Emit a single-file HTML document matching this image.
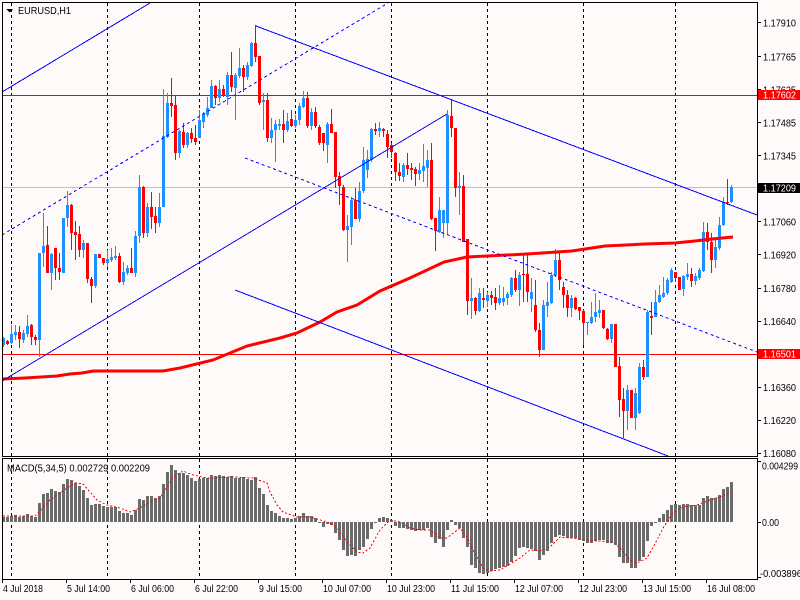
<!DOCTYPE html>
<html><head><meta charset="utf-8"><style>
html,body{margin:0;padding:0;background:#fffafa;}
svg{display:block;}
text{font-family:"Liberation Sans",sans-serif;font-size:10px;fill:#000;}
</style></head><body>
<svg width="800" height="600" viewBox="0 0 800 600" xmlns="http://www.w3.org/2000/svg" shape-rendering="crispEdges">
<rect width="800" height="600" fill="#fffafa"/>
<defs>
<clipPath id="cm"><rect x="2" y="2" width="756" height="455"/></clipPath>
<clipPath id="cd"><rect x="2" y="458" width="756" height="122"/></clipPath>
</defs>

<!-- vertical dashed grid -->
<g stroke="#000" stroke-width="1" stroke-dasharray="3,3">
<path d="M11.5 3V456M107.5 3V456M199.5 3V456M295.5 3V456M391.5 3V456M487.5 3V456M583.5 3V456M675.5 3V456"/>
<path d="M11.5 459V579M107.5 459V579M199.5 459V579M295.5 459V579M391.5 459V579M487.5 459V579M583.5 459V579M675.5 459V579"/>
</g>

<g clip-path="url(#cm)">
<!-- horizontal level lines -->
<rect x="2" y="187" width="756" height="1" fill="#c0c0c0"/>
<rect x="2" y="95" width="756" height="1" fill="#ff0000"/>
<rect x="2" y="354" width="756" height="1" fill="#ff0000"/>

<!-- blue candles -->
<g fill="#1e90ff">
<rect x="2" y="338" width="3" height="7"/><rect x="3" y="337" width="1" height="10"/>
<rect x="10" y="334" width="3" height="9"/><rect x="11" y="325" width="1" height="19"/>
<rect x="14" y="332" width="3" height="3"/><rect x="15" y="325" width="1" height="15"/>
<rect x="22" y="333" width="3" height="7"/><rect x="23" y="330" width="1" height="13"/>
<rect x="26" y="326" width="3" height="8"/><rect x="27" y="315" width="1" height="22"/>
<rect x="38" y="253" width="3" height="87"/><rect x="39" y="253" width="1" height="104"/>
<rect x="42" y="246" width="3" height="7"/><rect x="43" y="213" width="1" height="54"/>
<rect x="50" y="254" width="3" height="19"/><rect x="51" y="253" width="1" height="37"/>
<rect x="62" y="218" width="3" height="55"/><rect x="63" y="218" width="1" height="55"/>
<rect x="66" y="205" width="3" height="13"/><rect x="67" y="191" width="1" height="36"/>
<rect x="82" y="243" width="3" height="7"/><rect x="83" y="240" width="1" height="18"/>
<rect x="94" y="254" width="3" height="32"/><rect x="95" y="254" width="1" height="34"/>
<rect x="106" y="259" width="3" height="4"/><rect x="107" y="250" width="1" height="17"/>
<rect x="110" y="257" width="3" height="3"/><rect x="111" y="248" width="1" height="14"/>
<rect x="114" y="256" width="3" height="2"/><rect x="115" y="246" width="1" height="14"/>
<rect x="122" y="272" width="3" height="10"/><rect x="123" y="262" width="1" height="23"/>
<rect x="126" y="268" width="3" height="5"/><rect x="127" y="265" width="1" height="10"/>
<rect x="134" y="236" width="3" height="37"/><rect x="135" y="231" width="1" height="46"/>
<rect x="138" y="187" width="3" height="49"/><rect x="139" y="175" width="1" height="68"/>
<rect x="146" y="207" width="3" height="26"/><rect x="147" y="203" width="1" height="34"/>
<rect x="158" y="207" width="3" height="16"/><rect x="159" y="193" width="1" height="34"/>
<rect x="162" y="136" width="3" height="71"/><rect x="163" y="89" width="1" height="118"/>
<rect x="166" y="103" width="3" height="34"/><rect x="167" y="93" width="1" height="45"/>
<rect x="178" y="131" width="3" height="22"/><rect x="179" y="130" width="1" height="28"/>
<rect x="186" y="133" width="3" height="12"/><rect x="187" y="132" width="1" height="16"/>
<rect x="198" y="120" width="3" height="18"/><rect x="199" y="110" width="1" height="28"/>
<rect x="202" y="114" width="3" height="8"/><rect x="203" y="112" width="1" height="16"/>
<rect x="206" y="108" width="3" height="7"/><rect x="207" y="97" width="1" height="20"/>
<rect x="210" y="86" width="3" height="22"/><rect x="211" y="80" width="1" height="28"/>
<rect x="218" y="89" width="3" height="9"/><rect x="219" y="80" width="1" height="22"/>
<rect x="226" y="75" width="3" height="22"/><rect x="227" y="72" width="1" height="33"/>
<rect x="234" y="75" width="3" height="13"/><rect x="235" y="73" width="1" height="47"/>
<rect x="238" y="68" width="3" height="8"/><rect x="239" y="48" width="1" height="30"/>
<rect x="246" y="65" width="3" height="12"/><rect x="247" y="62" width="1" height="18"/>
<rect x="250" y="43" width="3" height="23"/><rect x="251" y="42" width="1" height="25"/>
<rect x="262" y="100" width="3" height="2"/><rect x="263" y="93" width="1" height="37"/>
<rect x="270" y="130" width="3" height="8"/><rect x="271" y="118" width="1" height="25"/>
<rect x="274" y="124" width="3" height="6"/><rect x="275" y="120" width="1" height="42"/>
<rect x="278" y="124" width="3" height="2"/><rect x="279" y="119" width="1" height="11"/>
<rect x="286" y="121" width="3" height="9"/><rect x="287" y="113" width="1" height="19"/>
<rect x="294" y="120" width="3" height="6"/><rect x="295" y="115" width="1" height="13"/>
<rect x="298" y="106" width="3" height="14"/><rect x="299" y="103" width="1" height="22"/>
<rect x="302" y="98" width="3" height="9"/><rect x="303" y="91" width="1" height="17"/>
<rect x="310" y="112" width="3" height="14"/><rect x="311" y="108" width="1" height="22"/>
<rect x="326" y="124" width="3" height="21"/><rect x="327" y="122" width="1" height="41"/>
<rect x="346" y="226" width="3" height="4"/><rect x="347" y="215" width="1" height="47"/>
<rect x="350" y="200" width="3" height="27"/><rect x="351" y="197" width="1" height="48"/>
<rect x="358" y="191" width="3" height="28"/><rect x="359" y="182" width="1" height="40"/>
<rect x="362" y="160" width="3" height="31"/><rect x="363" y="147" width="1" height="46"/>
<rect x="366" y="159" width="3" height="11"/><rect x="367" y="150" width="1" height="28"/>
<rect x="370" y="129" width="3" height="31"/><rect x="371" y="128" width="1" height="34"/>
<rect x="378" y="128" width="3" height="3"/><rect x="379" y="122" width="1" height="15"/>
<rect x="402" y="165" width="3" height="12"/><rect x="403" y="163" width="1" height="19"/>
<rect x="418" y="170" width="3" height="4"/><rect x="419" y="163" width="1" height="17"/>
<rect x="422" y="166" width="3" height="5"/><rect x="423" y="144" width="1" height="38"/>
<rect x="426" y="160" width="3" height="8"/><rect x="427" y="150" width="1" height="37"/>
<rect x="438" y="210" width="3" height="22"/><rect x="439" y="197" width="1" height="36"/>
<rect x="442" y="210" width="3" height="13"/><rect x="443" y="210" width="1" height="28"/>
<rect x="446" y="115" width="3" height="108"/><rect x="447" y="110" width="1" height="125"/>
<rect x="458" y="186" width="3" height="2"/><rect x="459" y="172" width="1" height="43"/>
<rect x="470" y="298" width="3" height="3"/><rect x="471" y="278" width="1" height="41"/>
<rect x="478" y="293" width="3" height="18"/><rect x="479" y="288" width="1" height="24"/>
<rect x="486" y="295" width="3" height="6"/><rect x="487" y="292" width="1" height="15"/>
<rect x="498" y="298" width="3" height="5"/><rect x="499" y="285" width="1" height="20"/>
<rect x="502" y="298" width="3" height="4"/><rect x="503" y="287" width="1" height="19"/>
<rect x="506" y="294" width="3" height="4"/><rect x="507" y="292" width="1" height="13"/>
<rect x="510" y="278" width="3" height="17"/><rect x="511" y="277" width="1" height="20"/>
<rect x="518" y="275" width="3" height="15"/><rect x="519" y="272" width="1" height="34"/>
<rect x="530" y="292" width="3" height="7"/><rect x="531" y="278" width="1" height="34"/>
<rect x="542" y="305" width="3" height="45"/><rect x="543" y="300" width="1" height="50"/>
<rect x="546" y="302" width="3" height="4"/><rect x="547" y="282" width="1" height="35"/>
<rect x="550" y="275" width="3" height="28"/><rect x="551" y="272" width="1" height="32"/>
<rect x="554" y="260" width="3" height="15"/><rect x="555" y="249" width="1" height="28"/>
<rect x="570" y="298" width="3" height="10"/><rect x="571" y="295" width="1" height="22"/>
<rect x="586" y="322" width="3" height="1"/><rect x="587" y="322" width="1" height="13"/>
<rect x="590" y="317" width="3" height="6"/><rect x="591" y="302" width="1" height="22"/>
<rect x="594" y="312" width="3" height="5"/><rect x="595" y="293" width="1" height="29"/>
<rect x="598" y="310" width="3" height="3"/><rect x="599" y="300" width="1" height="18"/>
<rect x="610" y="324" width="3" height="15"/><rect x="611" y="324" width="1" height="19"/>
<rect x="626" y="390" width="3" height="21"/><rect x="627" y="385" width="1" height="45"/>
<rect x="634" y="393" width="3" height="25"/><rect x="635" y="388" width="1" height="42"/>
<rect x="638" y="367" width="3" height="46"/><rect x="639" y="363" width="1" height="51"/>
<rect x="646" y="312" width="3" height="65"/><rect x="647" y="310" width="1" height="67"/>
<rect x="654" y="302" width="3" height="15"/><rect x="655" y="290" width="1" height="27"/>
<rect x="658" y="295" width="3" height="7"/><rect x="659" y="285" width="1" height="18"/>
<rect x="662" y="293" width="3" height="4"/><rect x="663" y="277" width="1" height="21"/>
<rect x="666" y="280" width="3" height="13"/><rect x="667" y="278" width="1" height="17"/>
<rect x="670" y="270" width="3" height="12"/><rect x="671" y="268" width="1" height="15"/>
<rect x="682" y="276" width="3" height="13"/><rect x="683" y="275" width="1" height="21"/>
<rect x="686" y="274" width="3" height="3"/><rect x="687" y="263" width="1" height="17"/>
<rect x="694" y="276" width="3" height="5"/><rect x="695" y="273" width="1" height="12"/>
<rect x="698" y="270" width="3" height="8"/><rect x="699" y="268" width="1" height="12"/>
<rect x="702" y="232" width="3" height="39"/><rect x="703" y="222" width="1" height="50"/>
<rect x="714" y="247" width="3" height="13"/><rect x="715" y="237" width="1" height="31"/>
<rect x="718" y="225" width="3" height="23"/><rect x="719" y="217" width="1" height="33"/>
<rect x="722" y="202" width="3" height="23"/><rect x="723" y="197" width="1" height="29"/>
<rect x="730" y="187" width="3" height="15"/><rect x="731" y="185" width="1" height="18"/>
</g>

<!-- red candles -->
<g fill="#ff0000">
<rect x="6" y="341" width="3" height="3"/><rect x="7" y="340" width="1" height="5"/>
<rect x="18" y="332" width="3" height="7"/><rect x="19" y="326" width="1" height="22"/>
<rect x="30" y="325" width="3" height="12"/><rect x="31" y="324" width="1" height="21"/>
<rect x="34" y="337" width="3" height="3"/><rect x="35" y="335" width="1" height="10"/>
<rect x="46" y="245" width="3" height="28"/><rect x="47" y="226" width="1" height="47"/>
<rect x="54" y="248" width="3" height="20"/><rect x="55" y="248" width="1" height="32"/>
<rect x="58" y="268" width="3" height="4"/><rect x="59" y="253" width="1" height="27"/>
<rect x="70" y="205" width="3" height="28"/><rect x="71" y="204" width="1" height="46"/>
<rect x="74" y="232" width="3" height="3"/><rect x="75" y="221" width="1" height="39"/>
<rect x="78" y="234" width="3" height="16"/><rect x="79" y="226" width="1" height="31"/>
<rect x="86" y="243" width="3" height="36"/><rect x="87" y="243" width="1" height="40"/>
<rect x="90" y="279" width="3" height="7"/><rect x="91" y="277" width="1" height="26"/>
<rect x="98" y="254" width="3" height="4"/><rect x="99" y="254" width="1" height="4"/>
<rect x="102" y="258" width="3" height="5"/><rect x="103" y="258" width="1" height="7"/>
<rect x="118" y="256" width="3" height="26"/><rect x="119" y="253" width="1" height="30"/>
<rect x="130" y="268" width="3" height="5"/><rect x="131" y="248" width="1" height="25"/>
<rect x="142" y="187" width="3" height="46"/><rect x="143" y="186" width="1" height="52"/>
<rect x="150" y="207" width="3" height="10"/><rect x="151" y="192" width="1" height="37"/>
<rect x="154" y="216" width="3" height="7"/><rect x="155" y="207" width="1" height="26"/>
<rect x="170" y="103" width="3" height="3"/><rect x="171" y="78" width="1" height="39"/>
<rect x="174" y="105" width="3" height="48"/><rect x="175" y="95" width="1" height="65"/>
<rect x="182" y="132" width="3" height="13"/><rect x="183" y="123" width="1" height="25"/>
<rect x="190" y="133" width="3" height="6"/><rect x="191" y="128" width="1" height="15"/>
<rect x="194" y="138" width="3" height="4"/><rect x="195" y="125" width="1" height="20"/>
<rect x="214" y="86" width="3" height="12"/><rect x="215" y="85" width="1" height="20"/>
<rect x="222" y="89" width="3" height="6"/><rect x="223" y="85" width="1" height="12"/>
<rect x="230" y="75" width="3" height="12"/><rect x="231" y="52" width="1" height="40"/>
<rect x="242" y="68" width="3" height="9"/><rect x="243" y="65" width="1" height="27"/>
<rect x="254" y="43" width="3" height="14"/><rect x="255" y="25" width="1" height="37"/>
<rect x="258" y="56" width="3" height="47"/><rect x="259" y="56" width="1" height="49"/>
<rect x="266" y="100" width="3" height="38"/><rect x="267" y="93" width="1" height="49"/>
<rect x="282" y="124" width="3" height="6"/><rect x="283" y="110" width="1" height="33"/>
<rect x="290" y="119" width="3" height="7"/><rect x="291" y="110" width="1" height="17"/>
<rect x="306" y="98" width="3" height="28"/><rect x="307" y="92" width="1" height="36"/>
<rect x="314" y="112" width="3" height="14"/><rect x="315" y="107" width="1" height="21"/>
<rect x="318" y="127" width="3" height="16"/><rect x="319" y="125" width="1" height="20"/>
<rect x="322" y="133" width="3" height="10"/><rect x="323" y="133" width="1" height="18"/>
<rect x="330" y="124" width="3" height="9"/><rect x="331" y="109" width="1" height="24"/>
<rect x="334" y="132" width="3" height="45"/><rect x="335" y="132" width="1" height="56"/>
<rect x="338" y="176" width="3" height="10"/><rect x="339" y="172" width="1" height="33"/>
<rect x="342" y="187" width="3" height="43"/><rect x="343" y="185" width="1" height="46"/>
<rect x="354" y="200" width="3" height="19"/><rect x="355" y="188" width="1" height="31"/>
<rect x="374" y="129" width="3" height="2"/><rect x="375" y="123" width="1" height="12"/>
<rect x="382" y="129" width="3" height="2"/><rect x="383" y="128" width="1" height="9"/>
<rect x="386" y="134" width="3" height="13"/><rect x="387" y="130" width="1" height="28"/>
<rect x="390" y="145" width="3" height="7"/><rect x="391" y="143" width="1" height="15"/>
<rect x="394" y="153" width="3" height="19"/><rect x="395" y="152" width="1" height="29"/>
<rect x="398" y="172" width="3" height="4"/><rect x="399" y="163" width="1" height="18"/>
<rect x="406" y="165" width="3" height="4"/><rect x="407" y="153" width="1" height="22"/>
<rect x="410" y="168" width="3" height="2"/><rect x="411" y="163" width="1" height="17"/>
<rect x="414" y="169" width="3" height="5"/><rect x="415" y="167" width="1" height="19"/>
<rect x="430" y="160" width="3" height="59"/><rect x="431" y="143" width="1" height="77"/>
<rect x="434" y="218" width="3" height="13"/><rect x="435" y="218" width="1" height="33"/>
<rect x="450" y="116" width="3" height="12"/><rect x="451" y="100" width="1" height="37"/>
<rect x="454" y="128" width="3" height="60"/><rect x="455" y="128" width="1" height="69"/>
<rect x="462" y="186" width="3" height="56"/><rect x="463" y="175" width="1" height="67"/>
<rect x="466" y="239" width="3" height="62"/><rect x="467" y="239" width="1" height="76"/>
<rect x="474" y="298" width="3" height="13"/><rect x="475" y="297" width="1" height="18"/>
<rect x="482" y="298" width="3" height="2"/><rect x="483" y="288" width="1" height="20"/>
<rect x="490" y="295" width="3" height="3"/><rect x="491" y="291" width="1" height="14"/>
<rect x="494" y="297" width="3" height="6"/><rect x="495" y="288" width="1" height="22"/>
<rect x="514" y="278" width="3" height="12"/><rect x="515" y="270" width="1" height="22"/>
<rect x="522" y="274" width="3" height="1"/><rect x="523" y="255" width="1" height="47"/>
<rect x="526" y="274" width="3" height="18"/><rect x="527" y="255" width="1" height="47"/>
<rect x="534" y="305" width="3" height="25"/><rect x="535" y="280" width="1" height="52"/>
<rect x="538" y="330" width="3" height="20"/><rect x="539" y="323" width="1" height="34"/>
<rect x="558" y="260" width="3" height="20"/><rect x="559" y="252" width="1" height="38"/>
<rect x="562" y="287" width="3" height="8"/><rect x="563" y="282" width="1" height="26"/>
<rect x="566" y="295" width="3" height="13"/><rect x="567" y="290" width="1" height="27"/>
<rect x="574" y="298" width="3" height="11"/><rect x="575" y="297" width="1" height="13"/>
<rect x="578" y="307" width="3" height="4"/><rect x="579" y="307" width="1" height="13"/>
<rect x="582" y="311" width="3" height="12"/><rect x="583" y="310" width="1" height="35"/>
<rect x="602" y="310" width="3" height="18"/><rect x="603" y="310" width="1" height="19"/>
<rect x="606" y="329" width="3" height="10"/><rect x="607" y="328" width="1" height="12"/>
<rect x="614" y="324" width="3" height="43"/><rect x="615" y="324" width="1" height="43"/>
<rect x="618" y="366" width="3" height="34"/><rect x="619" y="357" width="1" height="60"/>
<rect x="622" y="399" width="3" height="12"/><rect x="623" y="388" width="1" height="50"/>
<rect x="630" y="390" width="3" height="28"/><rect x="631" y="390" width="1" height="28"/>
<rect x="642" y="367" width="3" height="10"/><rect x="643" y="360" width="1" height="20"/>
<rect x="650" y="316" width="3" height="2"/><rect x="651" y="302" width="1" height="33"/>
<rect x="674" y="272" width="3" height="6"/><rect x="675" y="272" width="1" height="10"/>
<rect x="678" y="277" width="3" height="13"/><rect x="679" y="277" width="1" height="13"/>
<rect x="690" y="274" width="3" height="7"/><rect x="691" y="268" width="1" height="19"/>
<rect x="706" y="232" width="3" height="10"/><rect x="707" y="223" width="1" height="27"/>
<rect x="710" y="242" width="3" height="18"/><rect x="711" y="233" width="1" height="40"/>
<rect x="726" y="202" width="3" height="1"/><rect x="727" y="179" width="1" height="26"/>
</g>

<!-- moving average -->
<polyline fill="none" stroke="#ff0000" stroke-width="3" shape-rendering="auto" points="2,379 25,378 57,376 70,374 82,373 93,371 163,371 180,368 213,360 247,346 280,338 297,333 320,322 337,312 357,305 380,291 410,278 444,262 467,257 487,256 527,254 572,251 585,249 605,246 645,244 675,243 695,241 712,239 733,237"/>

<!-- trendlines -->
<g stroke="#0000ff" stroke-width="1" fill="none">
<line x1="2" y1="92" x2="150" y2="3"/>
<line x1="2" y1="381" x2="447" y2="114"/>
<line x1="256" y1="26" x2="757" y2="215"/>
<line x1="235" y1="290" x2="668" y2="456"/>
<line x1="2" y1="235" x2="388" y2="3" stroke-dasharray="3,3"/>
<line x1="245" y1="158" x2="757" y2="352" stroke-dasharray="3,3"/>
</g>
</g>

<!-- MACD histogram -->
<g clip-path="url(#cd)" fill="#6b6b6b">
<rect x="2" y="517" width="3" height="5"/><rect x="6" y="517" width="3" height="5"/><rect x="10" y="516" width="3" height="6"/><rect x="14" y="515" width="3" height="7"/><rect x="18" y="517" width="3" height="5"/><rect x="22" y="516" width="3" height="6"/><rect x="26" y="514" width="3" height="8"/><rect x="30" y="516" width="3" height="6"/><rect x="34" y="517" width="3" height="5"/><rect x="38" y="503" width="3" height="19"/>
<rect x="42" y="494" width="3" height="28"/><rect x="46" y="493" width="3" height="29"/><rect x="50" y="489" width="3" height="33"/><rect x="54" y="491" width="3" height="31"/><rect x="58" y="492" width="3" height="30"/><rect x="62" y="484" width="3" height="38"/><rect x="66" y="479" width="3" height="43"/><rect x="70" y="480" width="3" height="42"/><rect x="74" y="483" width="3" height="39"/><rect x="78" y="486" width="3" height="36"/>
<rect x="82" y="490" width="3" height="32"/><rect x="86" y="498" width="3" height="24"/><rect x="90" y="505" width="3" height="17"/><rect x="94" y="504" width="3" height="18"/><rect x="98" y="504" width="3" height="18"/><rect x="102" y="506" width="3" height="16"/><rect x="106" y="507" width="3" height="15"/><rect x="110" y="507" width="3" height="15"/><rect x="114" y="507" width="3" height="15"/><rect x="118" y="511" width="3" height="11"/>
<rect x="122" y="513" width="3" height="9"/><rect x="126" y="513" width="3" height="9"/><rect x="130" y="515" width="3" height="7"/><rect x="134" y="510" width="3" height="12"/><rect x="138" y="499" width="3" height="23"/><rect x="142" y="500" width="3" height="22"/><rect x="146" y="496" width="3" height="26"/><rect x="150" y="496" width="3" height="26"/><rect x="154" y="498" width="3" height="24"/><rect x="158" y="496" width="3" height="26"/>
<rect x="162" y="484" width="3" height="38"/><rect x="166" y="472" width="3" height="50"/><rect x="170" y="465" width="3" height="57"/><rect x="174" y="470" width="3" height="52"/><rect x="178" y="473" width="3" height="49"/><rect x="182" y="473" width="3" height="49"/><rect x="186" y="475" width="3" height="47"/><rect x="190" y="478" width="3" height="44"/><rect x="194" y="481" width="3" height="41"/><rect x="198" y="479" width="3" height="43"/>
<rect x="202" y="478" width="3" height="44"/><rect x="206" y="478" width="3" height="44"/><rect x="210" y="475" width="3" height="47"/><rect x="214" y="476" width="3" height="46"/><rect x="218" y="475" width="3" height="47"/><rect x="222" y="476" width="3" height="46"/><rect x="226" y="477" width="3" height="45"/><rect x="230" y="476" width="3" height="46"/><rect x="234" y="478" width="3" height="44"/><rect x="238" y="478" width="3" height="44"/>
<rect x="242" y="477" width="3" height="45"/><rect x="246" y="479" width="3" height="43"/><rect x="250" y="480" width="3" height="42"/><rect x="254" y="477" width="3" height="45"/><rect x="258" y="488" width="3" height="34"/><rect x="262" y="494" width="3" height="28"/><rect x="266" y="505" width="3" height="17"/><rect x="270" y="511" width="3" height="11"/><rect x="274" y="513" width="3" height="9"/><rect x="278" y="516" width="3" height="6"/>
<rect x="282" y="518" width="3" height="4"/><rect x="286" y="518" width="3" height="4"/><rect x="290" y="519" width="3" height="3"/><rect x="294" y="518" width="3" height="4"/><rect x="298" y="516" width="3" height="6"/><rect x="302" y="513" width="3" height="9"/><rect x="306" y="516" width="3" height="6"/><rect x="310" y="516" width="3" height="6"/><rect x="314" y="518" width="3" height="4"/><rect x="318" y="522" width="3" height="1"/>
<rect x="322" y="522" width="3" height="5"/><rect x="326" y="522" width="3" height="2"/><rect x="330" y="522" width="3" height="3"/><rect x="334" y="522" width="3" height="11"/><rect x="338" y="522" width="3" height="18"/><rect x="342" y="522" width="3" height="28"/><rect x="346" y="522" width="3" height="34"/><rect x="350" y="522" width="3" height="33"/><rect x="354" y="522" width="3" height="34"/><rect x="358" y="522" width="3" height="28"/>
<rect x="362" y="522" width="3" height="25"/><rect x="366" y="522" width="3" height="17"/><rect x="370" y="522" width="3" height="7"/><rect x="374" y="522" width="3" height="1"/><rect x="378" y="518" width="3" height="4"/><rect x="382" y="517" width="3" height="5"/><rect x="386" y="518" width="3" height="4"/><rect x="390" y="520" width="3" height="2"/><rect x="394" y="522" width="3" height="4"/><rect x="398" y="522" width="3" height="6"/>
<rect x="402" y="522" width="3" height="6"/><rect x="406" y="522" width="3" height="7"/><rect x="410" y="522" width="3" height="8"/><rect x="414" y="522" width="3" height="9"/><rect x="418" y="522" width="3" height="8"/><rect x="422" y="522" width="3" height="8"/><rect x="426" y="522" width="3" height="6"/><rect x="430" y="522" width="3" height="15"/><rect x="434" y="522" width="3" height="21"/><rect x="438" y="522" width="3" height="17"/>
<rect x="442" y="522" width="3" height="25"/><rect x="446" y="522" width="3" height="8"/><rect x="450" y="520" width="3" height="2"/><rect x="454" y="522" width="3" height="3"/><rect x="458" y="522" width="3" height="6"/><rect x="462" y="522" width="3" height="16"/><rect x="466" y="522" width="3" height="25"/><rect x="470" y="522" width="3" height="43"/><rect x="474" y="522" width="3" height="46"/><rect x="478" y="522" width="3" height="51"/>
<rect x="482" y="522" width="3" height="52"/><rect x="486" y="522" width="3" height="51"/><rect x="490" y="522" width="3" height="49"/><rect x="494" y="522" width="3" height="47"/><rect x="498" y="522" width="3" height="46"/><rect x="502" y="522" width="3" height="45"/><rect x="506" y="522" width="3" height="44"/><rect x="510" y="522" width="3" height="40"/><rect x="514" y="522" width="3" height="34"/><rect x="518" y="522" width="3" height="26"/>
<rect x="522" y="522" width="3" height="25"/><rect x="526" y="522" width="3" height="26"/><rect x="530" y="522" width="3" height="27"/><rect x="534" y="522" width="3" height="29"/><rect x="538" y="522" width="3" height="38"/><rect x="542" y="522" width="3" height="33"/><rect x="546" y="522" width="3" height="29"/><rect x="550" y="522" width="3" height="21"/><rect x="554" y="522" width="3" height="15"/><rect x="558" y="522" width="3" height="13"/>
<rect x="562" y="522" width="3" height="14"/><rect x="566" y="522" width="3" height="16"/><rect x="570" y="522" width="3" height="16"/><rect x="574" y="522" width="3" height="16"/><rect x="578" y="522" width="3" height="18"/><rect x="582" y="522" width="3" height="19"/><rect x="586" y="522" width="3" height="21"/><rect x="590" y="522" width="3" height="21"/><rect x="594" y="522" width="3" height="19"/><rect x="598" y="522" width="3" height="18"/>
<rect x="602" y="522" width="3" height="18"/><rect x="606" y="522" width="3" height="21"/><rect x="610" y="522" width="3" height="21"/><rect x="614" y="522" width="3" height="23"/><rect x="618" y="522" width="3" height="35"/><rect x="622" y="522" width="3" height="41"/><rect x="626" y="522" width="3" height="41"/><rect x="630" y="522" width="3" height="46"/><rect x="634" y="522" width="3" height="46"/><rect x="638" y="522" width="3" height="39"/>
<rect x="642" y="522" width="3" height="35"/><rect x="646" y="522" width="3" height="19"/><rect x="650" y="522" width="3" height="4"/><rect x="654" y="522" width="3" height="1"/><rect x="658" y="518" width="3" height="4"/><rect x="662" y="514" width="3" height="8"/><rect x="666" y="510" width="3" height="12"/><rect x="670" y="505" width="3" height="17"/><rect x="674" y="504" width="3" height="18"/><rect x="678" y="505" width="3" height="17"/>
<rect x="682" y="504" width="3" height="18"/><rect x="686" y="504" width="3" height="18"/><rect x="690" y="505" width="3" height="17"/><rect x="694" y="505" width="3" height="17"/><rect x="698" y="505" width="3" height="17"/><rect x="702" y="498" width="3" height="24"/><rect x="706" y="496" width="3" height="26"/><rect x="710" y="498" width="3" height="24"/><rect x="714" y="498" width="3" height="24"/><rect x="718" y="495" width="3" height="27"/>
<rect x="722" y="489" width="3" height="33"/><rect x="726" y="487" width="3" height="35"/><rect x="730" y="482" width="3" height="40"/>
<!-- signal -->
<polyline fill="none" stroke="#ff0000" stroke-width="1" stroke-dasharray="2,2" points="3,516 35,516 39,512 50,500 67,488 75,483 83,484 90,492 97,500 107,505 120,508 130,512 140,508 150,502 160,498 167,487 173,477 183,471 193,475 207,478 233,477 253,478 267,483 270,492 277,505 283,512 297,517 310,517 320,520 330,523 337,528 347,542 357,552 363,553 370,548 380,530 387,523 390,520 400,522 410,528 420,530 430,530 440,538 447,538 460,528 467,537 473,550 483,568 490,571 500,570 510,564 520,558 530,550 540,551 550,547 560,537 570,538 580,539 597,541 613,542 620,548 630,560 637,563 647,558 657,540 663,528 673,513 683,507 697,505 710,500 720,497 731,492"/>
</g>

<!-- frames -->
<g fill="none" stroke="#000" stroke-width="1">
<rect x="2.5" y="2.5" width="755" height="454"/>
<rect x="2.5" y="458.5" width="755" height="121"/>
</g>

<!-- title -->
<polygon points="6,9 13,9 9.5,12.5" fill="#000"/>
<text x="18" y="14" textLength="53" lengthAdjust="spacingAndGlyphs">EURUSD,H1</text>
<text x="7" y="471.5" textLength="143" lengthAdjust="spacingAndGlyphs">MACD(5,34,5) 0.002729 0.002209</text>

<!-- price axis ticks -->
<g fill="#000">
<rect x="758" y="22" width="3" height="1"/><rect x="758" y="56" width="3" height="1"/><rect x="758" y="89" width="3" height="1"/><rect x="758" y="122" width="3" height="1"/><rect x="758" y="155" width="3" height="1"/><rect x="758" y="221" width="3" height="1"/><rect x="758" y="254" width="3" height="1"/><rect x="758" y="288" width="3" height="1"/><rect x="758" y="321" width="3" height="1"/><rect x="758" y="387" width="3" height="1"/><rect x="758" y="420" width="3" height="1"/><rect x="758" y="453" width="3" height="1"/>
<rect x="758" y="461" width="3" height="1"/><rect x="758" y="522" width="3" height="1"/><rect x="758" y="577" width="3" height="1"/>
<rect x="2" y="580" width="1" height="3"/><rect x="66" y="580" width="1" height="3"/><rect x="130" y="580" width="1" height="3"/><rect x="194" y="580" width="1" height="3"/><rect x="258" y="580" width="1" height="3"/><rect x="322" y="580" width="1" height="3"/><rect x="386" y="580" width="1" height="3"/><rect x="450" y="580" width="1" height="3"/><rect x="514" y="580" width="1" height="3"/><rect x="578" y="580" width="1" height="3"/><rect x="642" y="580" width="1" height="3"/><rect x="706" y="580" width="1" height="3"/>
</g>

<!-- price labels -->
<g>
<text x="763" y="26.5" textLength="33" lengthAdjust="spacingAndGlyphs">1.17910</text>
<text x="763" y="60.5" textLength="33" lengthAdjust="spacingAndGlyphs">1.17765</text>
<text x="763" y="93.5" textLength="33" lengthAdjust="spacingAndGlyphs">1.17625</text>
<text x="763" y="126.5" textLength="33" lengthAdjust="spacingAndGlyphs">1.17485</text>
<text x="763" y="159.5" textLength="33" lengthAdjust="spacingAndGlyphs">1.17345</text>
<text x="763" y="225.5" textLength="33" lengthAdjust="spacingAndGlyphs">1.17060</text>
<text x="763" y="258.5" textLength="33" lengthAdjust="spacingAndGlyphs">1.16920</text>
<text x="763" y="292" textLength="33" lengthAdjust="spacingAndGlyphs">1.16780</text>
<text x="763" y="325" textLength="33" lengthAdjust="spacingAndGlyphs">1.16640</text>
<text x="763" y="391" textLength="33" lengthAdjust="spacingAndGlyphs">1.16360</text>
<text x="763" y="424" textLength="33" lengthAdjust="spacingAndGlyphs">1.16220</text>
<text x="763" y="457" textLength="33" lengthAdjust="spacingAndGlyphs">1.16080</text>
</g>
<rect x="758" y="90" width="42" height="10" fill="#ff0000"/>
<text x="763" y="98.5" textLength="33" lengthAdjust="spacingAndGlyphs" style="fill:#fff">1.17602</text>
<rect x="758" y="183" width="42" height="10" fill="#000"/>
<text x="763" y="191.5" textLength="33" lengthAdjust="spacingAndGlyphs" style="fill:#fff">1.17209</text>
<rect x="758" y="349" width="42" height="10" fill="#ff0000"/>
<text x="763" y="357.5" textLength="33" lengthAdjust="spacingAndGlyphs" style="fill:#fff">1.16501</text>

<!-- MACD axis labels -->
<text x="762" y="469.5" textLength="36" lengthAdjust="spacingAndGlyphs">0.004299</text>
<text x="762" y="526" textLength="17" lengthAdjust="spacingAndGlyphs">0.00</text>
<text x="760" y="577" textLength="42" lengthAdjust="spacingAndGlyphs">-0.003896</text>

<!-- time labels -->
<g>
<text x="3" y="592" textLength="40" lengthAdjust="spacingAndGlyphs">4 Jul 2018</text>
<text x="67" y="592" textLength="43" lengthAdjust="spacingAndGlyphs">5 Jul 14:00</text>
<text x="131" y="592" textLength="43" lengthAdjust="spacingAndGlyphs">6 Jul 06:00</text>
<text x="195" y="592" textLength="43" lengthAdjust="spacingAndGlyphs">6 Jul 22:00</text>
<text x="259" y="592" textLength="43" lengthAdjust="spacingAndGlyphs">9 Jul 15:00</text>
<text x="323" y="592" textLength="48" lengthAdjust="spacingAndGlyphs">10 Jul 07:00</text>
<text x="387" y="592" textLength="48" lengthAdjust="spacingAndGlyphs">10 Jul 23:00</text>
<text x="451" y="592" textLength="48" lengthAdjust="spacingAndGlyphs">11 Jul 15:00</text>
<text x="515" y="592" textLength="48" lengthAdjust="spacingAndGlyphs">12 Jul 07:00</text>
<text x="579" y="592" textLength="48" lengthAdjust="spacingAndGlyphs">12 Jul 23:00</text>
<text x="643" y="592" textLength="48" lengthAdjust="spacingAndGlyphs">13 Jul 15:00</text>
<text x="707" y="592" textLength="48" lengthAdjust="spacingAndGlyphs">16 Jul 08:00</text>
</g>
</svg>
</body></html>
